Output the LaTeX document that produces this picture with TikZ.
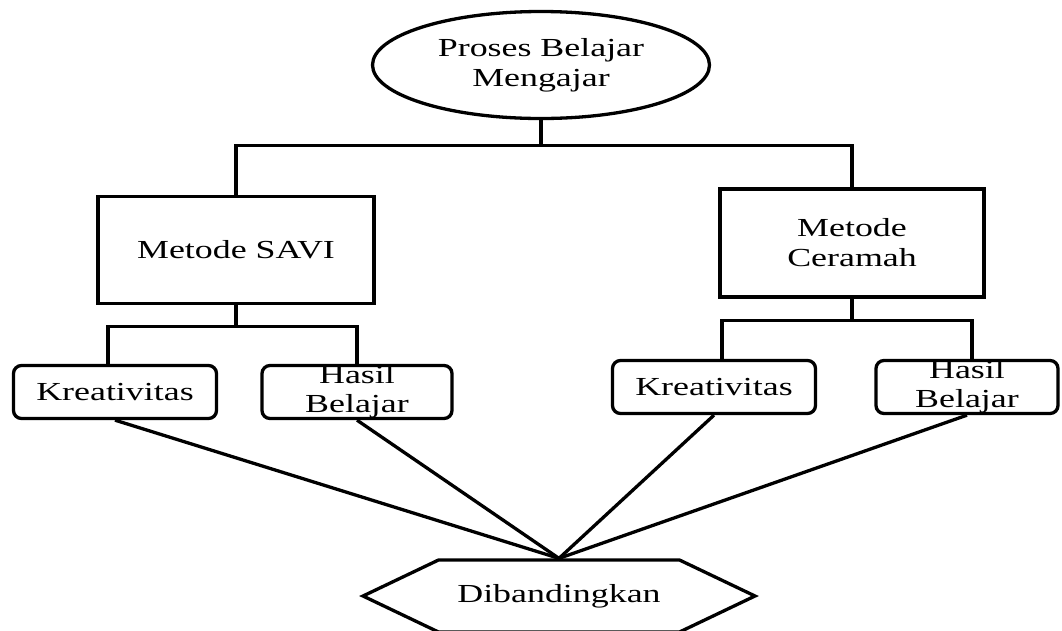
\documentclass[tikz,border=0pt]{standalone}
\usepackage{fontspec}
\setmainfont{Liberation Serif}[FakeStretch=1.38]
\usepackage{tikz}
\usetikzlibrary{shapes,shapes.geometric,shapes.symbols,arrows}
\usetikzlibrary{positioning}
\tikzstyle{process} = [ellipse, draw, minimum width=337pt, minimum height=107pt,
    inner sep=0pt, align=center]
\tikzstyle{method} = [rectangle, draw, inner sep=0pt, align=center]
\tikzstyle{outcome} = [rectangle, draw, rounded corners=8pt, minimum height=53pt,
    inner xsep=0pt, inner ysep=0pt, align=center, font=\fontsize{26}{29}\selectfont]
\tikzstyle{line} = [draw, line width=3.3pt]

\begin{document}
\begin{tikzpicture}[x=1pt,y=1pt,line width=3.3pt,every node/.style={font=\fontsize{26}{30}\selectfont}]
\useasboundingbox (0,0) rectangle (1062,-630);

% Define block styles
\tikzstyle{compare} = [signal, draw, signal to=east and west, signal pointer angle=51,
    minimum width=392pt, minimum height=72pt, inner sep=0pt]

\node [process] (pbm) at (541,-65) {Proses Belajar\\Mengajar};
\node [method,minimum width=276pt,minimum height=107pt] (savi) at (236,-250) {Metode SAVI};
\node [method,minimum width=264pt,minimum height=108pt] (ceramah) at (852,-243) {Metode\\Ceramah};

\node [outcome,minimum width=203pt] (kreasavi) at (115,-392) {Kreativitas};
\node [outcome,minimum width=190pt] (hasilsavi) at (357,-392) {Hasil\\Belajar};
\node [outcome,minimum width=203pt] (kreaceramah) at (714,-387) {Kreativitas};
\node [outcome,minimum width=182pt] (hasilceramah) at (967,-387) {Hasil\\Belajar};

\node [compare] (banding) at (559,-596) {Dibandingkan};

\draw[line] (pbm.south) -- ++(0,-25) -| (savi.north);
\draw[line] (pbm.south) -- ++(0,-25) -| (ceramah.north);

\draw[line] (savi.south) -- ++(0,-21) -| ([xshift=-7pt]kreasavi.north);
\draw[line] (savi.south) -- ++(0,-21) -| (hasilsavi.north);
\draw[line] (ceramah.south) -- ++(0,-22) -| ([xshift=8pt]kreaceramah.north);
\draw[line] (ceramah.south) -- ++(0,-22) -| ([xshift=5pt]hasilceramah.north);

%\draw[line] (kreasavi.south) -- (banding);
\draw[line] (kreasavi.south) -- (banding.north);
\draw[line] (hasilsavi.south) -- (banding.north);
\draw[line] (kreaceramah.south) -- (banding.north);
\draw[line] (hasilceramah.south) -- (banding.north);

\end{tikzpicture}
\end{document}
